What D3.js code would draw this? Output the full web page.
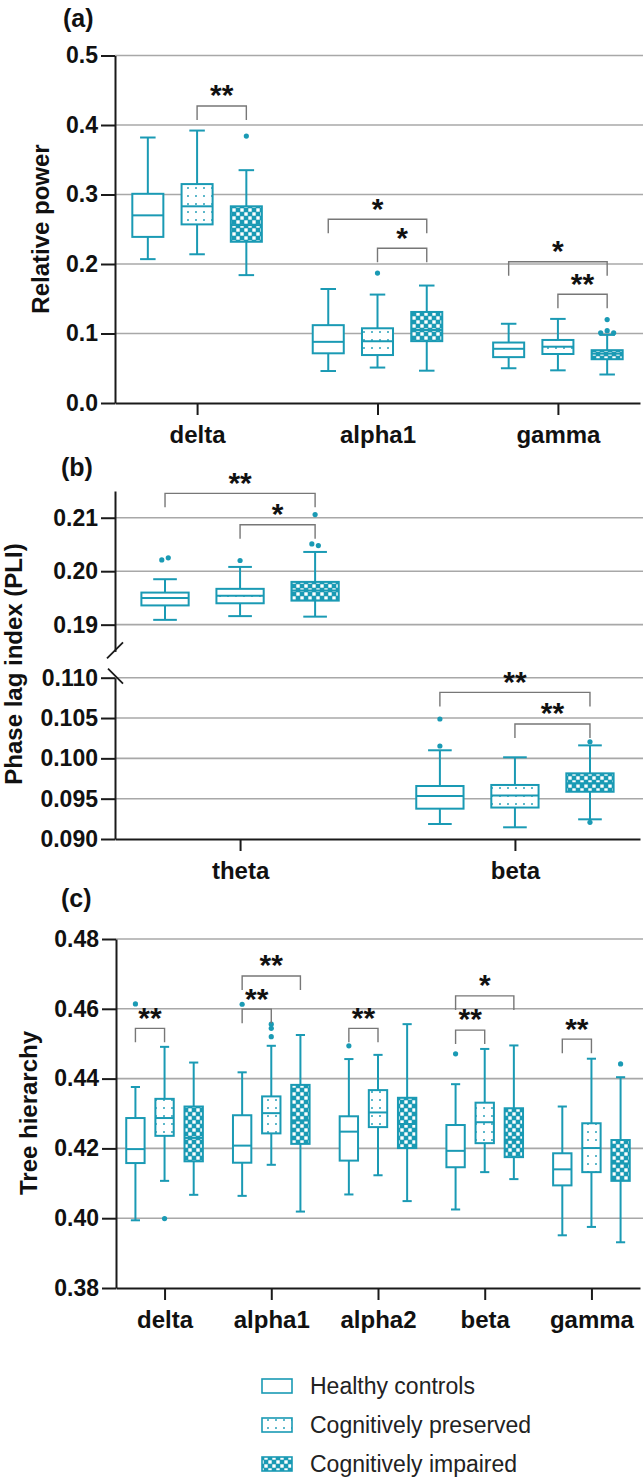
<!DOCTYPE html>
<html><head><meta charset="utf-8">
<script src="https://cdn.jsdelivr.net/npm/d3@7"></script>
<style>
body{margin:0;background:#fff}
svg text{font-family:"Liberation Sans",Arial,sans-serif}
</style>
</head><body>
<svg id="chart" width="644" height="1480"></svg>
<script>
// ---------------- DATA ----------------
const groups = ["Healthy controls", "Cognitively preserved", "Cognitively impaired"];

// Panel (a) Relative power  — [min, q1, median, q3, max]
const bandsA = ["delta", "alpha1", "gamma"];
const ticksA = [0, 0.1, 0.2, 0.3, 0.4, 0.5];
const powerHC = [[0.207, 0.239, 0.270, 0.301, 0.382], [0.046, 0.0715, 0.088, 0.112, 0.164], [0.050, 0.066, 0.078, 0.087, 0.114]];
const powerCP = [[0.214, 0.257, 0.283, 0.315, 0.392], [0.051, 0.069, 0.089, 0.1075, 0.156], [0.047, 0.0705, 0.081, 0.0907, 0.121]];
const powerCI = [[0.184, 0.232, 0.256, 0.283, 0.335], [0.0465, 0.089, 0.105, 0.131, 0.169], [0.041, 0.063, 0.071, 0.076, 0.098]];
const powerOutHC = [[], [], []];
const powerOutCP = [[], [0.187], []];
const powerOutCI = [[0.384], [], [0.120, 0.101, 0.104, 0.101]];
const powerSig = [
  {band: "delta", from: 1, to: 2, at: 0.4273, label: "**"},
  {band: "alpha1", from: 0, to: 2, at: 0.2643, label: "*"},
  {band: "alpha1", from: 1, to: 2, at: 0.2226, label: "*"},
  {band: "gamma", from: 0, to: 2, at: 0.2033, label: "*"},
  {band: "gamma", from: 1, to: 2, at: 0.1564, label: "**"}
];

// Panel (b) Phase lag index (broken axis)
const bandsB = ["theta", "beta"];
const ticksBUpper = [0.19, 0.20, 0.21];
const ticksBLower = [0.090, 0.095, 0.100, 0.105, 0.110];
const pliHC = [[0.1909, 0.1936, 0.1950, 0.1960, 0.1985], [0.09186, 0.09376, 0.09533, 0.09657, 0.1010]];
const pliCP = [[0.1916, 0.1940, 0.1954, 0.1967, 0.2008], [0.09145, 0.0939, 0.0954, 0.0967, 0.10013]];
const pliCI = [[0.1915, 0.1945, 0.1964, 0.1980, 0.2036], [0.09244, 0.09586, 0.0969, 0.09814, 0.10161]];
const pliOutHC = [[0.2021, 0.2025], [0.10488, 0.10153]];
const pliOutCP = [[0.2020], []];
const pliOutCI = [[0.2106, 0.2051, 0.2048], [0.10206, 0.09207]];
const pliSig = [
  {band: "theta", from: 0, to: 2, at: 0.21456, label: "**"},
  {band: "theta", from: 1, to: 2, at: 0.20869, label: "*"},
  {band: "beta", from: 0, to: 2, at: 0.10818, label: "**"},
  {band: "beta", from: 1, to: 2, at: 0.10426, label: "**"}
];

// Panel (c) Tree hierarchy
const bandsC = ["delta", "alpha1", "alpha2", "beta", "gamma"];
const ticksC = [0.38, 0.40, 0.42, 0.44, 0.46, 0.48];
const treeHC = [[0.3994, 0.4158, 0.4198, 0.4287, 0.4376], [0.4064, 0.4159, 0.4208, 0.4295, 0.4418], [0.4068, 0.4165, 0.4248, 0.4292, 0.4456], [0.4025, 0.4146, 0.4193, 0.4267, 0.4384], [0.3951, 0.4094, 0.4140, 0.4186, 0.4320]];
const treeCP = [[0.4107, 0.4236, 0.4287, 0.4342, 0.4491], [0.4153, 0.4243, 0.4301, 0.4349, 0.4494], [0.4123, 0.4261, 0.4303, 0.4367, 0.4468], [0.4132, 0.4215, 0.4275, 0.4331, 0.4485], [0.3975, 0.4132, 0.4201, 0.4272, 0.4457]];
const treeCI = [[0.4067, 0.4163, 0.4230, 0.4320, 0.4446], [0.4019, 0.4213, 0.4280, 0.4382, 0.4525], [0.4049, 0.4201, 0.4270, 0.4345, 0.4556], [0.4112, 0.4175, 0.4225, 0.4315, 0.4495], [0.3931, 0.4107, 0.4157, 0.4224, 0.4404]];
const treeOutHC = [[0.4614], [0.4613], [0.4494], [0.4471], []];
const treeOutCP = [[0.3999], [0.4556, 0.4544, 0.4520], [], [], []];
const treeOutCI = [[], [], [], [], [0.4442]];
const treeSig = [
  {band: "delta", from: 0, to: 1, at: 0.4544, label: "**"},
  {band: "alpha1", from: 0, to: 1, at: 0.4599, label: "**"},
  {band: "alpha1", from: 0, to: 2, at: 0.4694, label: "**"},
  {band: "alpha2", from: 0, to: 1, at: 0.4544, label: "**"},
  {band: "beta", from: 0, to: 2, at: 0.4637, label: "*"},
  {band: "beta", from: 0, to: 1, at: 0.4539, label: "**"},
  {band: "gamma", from: 0, to: 1, at: 0.4513, label: "**"}
];

// ---------------- STYLE ----------------
const TEAL = "#1a9ab4";
const GRID = "#a8a8a8";
const fills = ["#ffffff", "url(#dots)", "url(#checks)"];
const svg = d3.select("#chart");

const defs = svg.append("defs");
const pd = defs.append("pattern").attr("id", "dots").attr("patternUnits", "userSpaceOnUse").attr("width", 8).attr("height", 8);
pd.append("rect").attr("width", 8).attr("height", 8).attr("fill", "#fff");
pd.append("circle").attr("cx", 4).attr("cy", 4).attr("r", 0.95).attr("fill", TEAL);
const pc = defs.append("pattern").attr("id", "checks").attr("patternUnits", "userSpaceOnUse").attr("width", 8).attr("height", 8);
pc.append("rect").attr("width", 8).attr("height", 8).attr("fill", TEAL);
pc.append("rect").attr("x", 0.3).attr("y", 0.3).attr("width", 3.4).attr("height", 3.4).attr("fill", "#fff");
pc.append("rect").attr("x", 4.3).attr("y", 4.3).attr("width", 3.4).attr("height", 3.4).attr("fill", "#fff");

const RIGHT = 640;
function makeX(bands, x0) {
  return d3.scalePoint().domain(bands).range([x0, RIGHT]).padding(0.455);
}

function styleAxis(g, fs) {
  g.select(".domain").attr("stroke", "#1a1a1a").attr("stroke-width", 2);
  g.selectAll(".tick line").attr("stroke", "#1a1a1a").attr("stroke-width", 2);
  g.selectAll(".tick text").attr("fill", "#111").attr("font-size", fs).attr("font-weight", "bold")
    .style("font-family", '"Liberation Sans", Arial, sans-serif');
}

function grid(y, ticks, x0) {
  svg.append("g").selectAll("line").data(ticks).join("line")
    .attr("x1", x0).attr("x2", RIGHT + 3).attr("y1", d => y(d)).attr("y2", d => y(d))
    .attr("stroke", GRID).attr("stroke-width", 1.6);
}

function yAxis(y, ticks, fmt, x0) {
  const g = svg.append("g").attr("transform", `translate(${x0},0)`)
    .call(d3.axisLeft(y).tickValues(ticks).tickFormat(d3.format(fmt)).tickSize(14).tickSizeOuter(0).tickPadding(3));
  styleAxis(g, 23);
  return g;
}

function xAxis(x, y0) {
  const g = svg.append("g").attr("transform", `translate(0,${y0})`)
    .call(d3.axisBottom(x).tickSize(12).tickSizeOuter(0).tickPadding(11));
  styleAxis(g, 24);
  return g;
}

function drawBoxes(x, yOf, bands, stats, outs) {
  const step = x.step(), bw = step * 0.172, off = step * 0.273, cap = bw * 0.5;
  const g = svg.append("g");
  stats.forEach((grpStats, gi) => grpStats.forEach((s, bi) => {
    if (!s) return;
    const cx = x(bands[bi]) + (gi - 1) * off;
    const [mn, q1, md, q3, mx] = s.map(yOf);
    g.append("line").attr("x1", cx).attr("x2", cx).attr("y1", mx).attr("y2", q3).attr("stroke", TEAL).attr("stroke-width", 2);
    g.append("line").attr("x1", cx).attr("x2", cx).attr("y1", q1).attr("y2", mn).attr("stroke", TEAL).attr("stroke-width", 2);
    [mn, mx].forEach(v => g.append("line").attr("x1", cx - cap / 2).attr("x2", cx + cap / 2).attr("y1", v).attr("y2", v).attr("stroke", TEAL).attr("stroke-width", 2));
    g.append("rect").attr("x", cx - bw / 2).attr("y", q3).attr("width", bw).attr("height", q1 - q3)
      .attr("fill", fills[gi]).attr("stroke", TEAL).attr("stroke-width", 2);
    g.append("line").attr("x1", cx - bw / 2).attr("x2", cx + bw / 2).attr("y1", md).attr("y2", md).attr("stroke", TEAL).attr("stroke-width", 2);
    // outliers, dodged horizontally when overlapping
    const pts = outs[gi][bi].map(v => ({v, y: yOf(v)}));
    const clusters = [];
    pts.forEach(p => {
      const c = clusters.find(cl => cl.some(q => Math.abs(q.y - p.y) < 3.5));
      if (c) c.push(p); else clusters.push([p]);
    });
    clusters.forEach(cl => cl.forEach((p, i) => {
      g.append("circle").attr("cx", cx + (i - (cl.length - 1) / 2) * 6.5).attr("cy", p.y).attr("r", 2.6).attr("fill", TEAL);
    }));
  }));
}

function drawSigs(x, yOf, sigs) {
  const off = x.step() * 0.273;
  const g = svg.append("g");
  sigs.forEach(s => {
    const x1 = x(s.band) + (s.from - 1) * off, x2 = x(s.band) + (s.to - 1) * off, yy = yOf(s.at);
    g.append("path").attr("d", `M${x1},${yy + 14}V${yy}H${x2}V${yy + 14}`)
      .attr("fill", "none").attr("stroke", "#777").attr("stroke-width", 1.4);
    g.append("text").attr("x", (x1 + x2) / 2).attr("y", yy - 18 + 0.58 * 30)
      .attr("text-anchor", "middle").attr("font-size", 30).attr("font-weight", "bold").attr("fill", "#111").text(s.label);
  });
}

function panelLabel(txt, x, yc) {
  svg.append("text").attr("x", x).attr("y", yc + 9).attr("font-size", 25).attr("font-weight", "bold").attr("fill", "#111").text(txt);
}
function yTitle(txt, xc, yc) {
  svg.append("text").attr("transform", `translate(${xc},${yc}) rotate(-90)`).attr("text-anchor", "middle")
    .attr("dy", "0.36em").attr("font-size", 24).attr("font-weight", "bold").attr("fill", "#111").text(txt);
}

// ---------------- PANEL (a) ----------------
{
  const x0 = 115;
  const x = makeX(bandsA, x0);
  const y = d3.scaleLinear().domain([0, 0.5]).range([403, 55.5]);
  grid(y, ticksA.slice(1), x0);
  drawBoxes(x, y, bandsA, [powerHC, powerCP, powerCI], [powerOutHC, powerOutCP, powerOutCI]);
  yAxis(y, ticksA, ".1f", x0);
  xAxis(x, 403);
  drawSigs(x, y, powerSig);
  panelLabel("(a)", 63, 18);
  yTitle("Relative power", 40, 229);
}

// ---------------- PANEL (b) ----------------
{
  const x0 = 115;
  const x = makeX(bandsB, x0);
  const yU = d3.scaleLinear().domain([0.185, 0.215]).range([651.4, 491]);
  const yL = d3.scaleLinear().domain([0.090, 0.110]).range([839, 677.7]);
  const yOf = v => (v > 0.15 ? yU(v) : yL(v));
  grid(yU, ticksBUpper, x0);
  grid(yL, ticksBLower.slice(1), x0);
  drawBoxes(x, yOf, bandsB, [pliHC, pliCP, pliCI], [pliOutHC, pliOutCP, pliOutCI]);
  yAxis(yU, ticksBUpper, ".2f", x0);
  yAxis(yL, ticksBLower, ".3f", x0);
  xAxis(x, 839);
  // axis break marks
  svg.append("line").attr("x1", x0 - 8).attr("y1", yU.range()[0] + 7).attr("x2", x0 + 8).attr("y2", yU.range()[0] - 9)
    .attr("stroke", "#1a1a1a").attr("stroke-width", 1.8);
  svg.append("line").attr("x1", x0 - 7).attr("y1", yL.range()[1] - 9).attr("x2", x0 + 8).attr("y2", yL.range()[1] + 6)
    .attr("stroke", "#1a1a1a").attr("stroke-width", 1.8);
  drawSigs(x, yOf, pliSig);
  panelLabel("(b)", 61, 467);
  yTitle("Phase lag index (PLI)", 13, 664);
}

// ---------------- PANEL (c) ----------------
{
  const x0 = 116;
  const x = makeX(bandsC, x0);
  const y = d3.scaleLinear().domain([0.38, 0.48]).range([1288, 939]);
  grid(y, ticksC.slice(1), x0);
  drawBoxes(x, y, bandsC, [treeHC, treeCP, treeCI], [treeOutHC, treeOutCP, treeOutCI]);
  yAxis(y, ticksC, ".2f", x0);
  xAxis(x, 1288);
  drawSigs(x, y, treeSig);
  panelLabel("(c)", 61, 898);
  yTitle("Tree hierarchy", 28, 1113);
}

// ---------------- LEGEND ----------------
{
  const g = svg.append("g");
  const rows = [1386, 1425, 1464];
  groups.forEach((name, i) => {
    g.append("rect").attr("x", 262).attr("y", rows[i] - 7).attr("width", 30).attr("height", 14)
      .attr("fill", fills[i]).attr("stroke", TEAL).attr("stroke-width", 1.6);
    g.append("text").attr("x", 310).attr("y", rows[i]).attr("dy", "0.36em").attr("font-size", 23)
      .attr("fill", "#222").text(name);
  });
}
</script>
</body></html>
